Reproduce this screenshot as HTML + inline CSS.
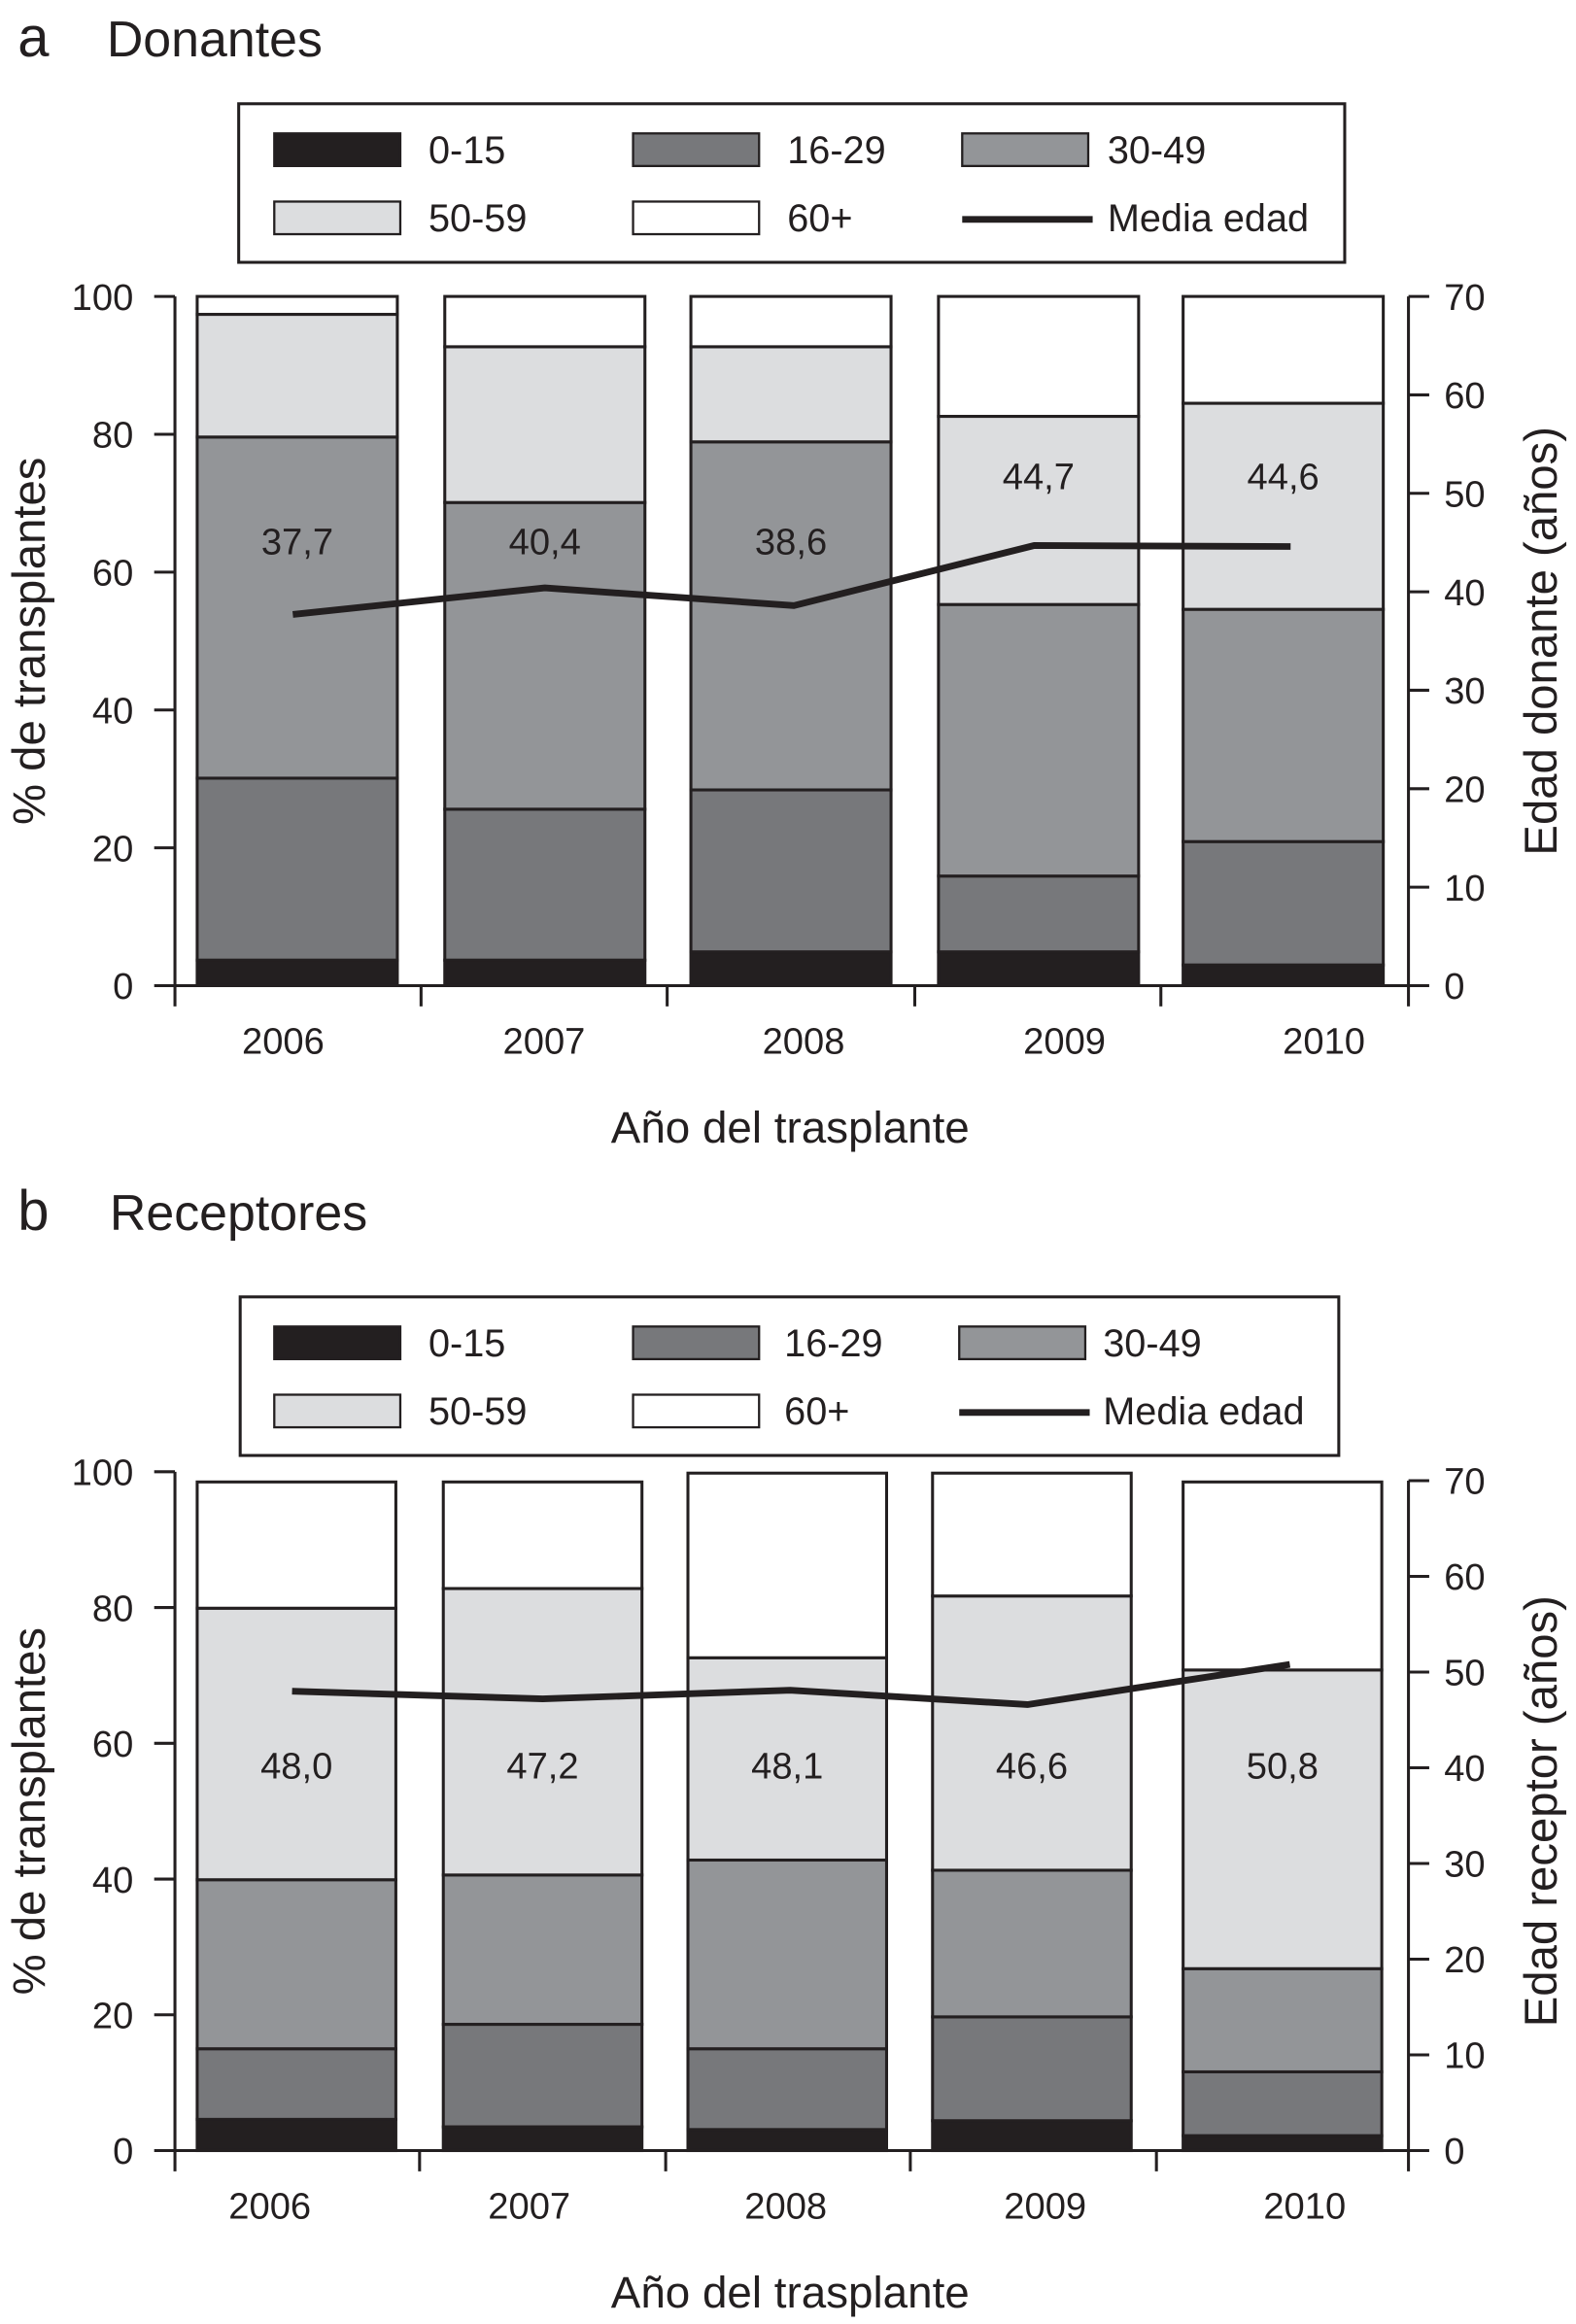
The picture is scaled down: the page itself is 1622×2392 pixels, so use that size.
<!DOCTYPE html>
<html><head><meta charset="utf-8"><style>
html,body{margin:0;padding:0;background:#fff;}
svg{display:block;}
text{font-family:"Liberation Sans",sans-serif;fill:#231f20;}
</style></head><body>
<svg id="fig" width="1622" height="2392" viewBox="0 0 1063 1568" preserveAspectRatio="none" xmlns="http://www.w3.org/2000/svg"></svg>
<script>
const years = ["2006","2007","2008","2009","2010"];
const seriesNames = ["0-15","16-29","30-49","50-59","60+"];
// cumulative top of each segment (%) - donors
const donCum015 = [3.7,3.7,4.9,4.9,3.0];
const donCum1629 = [30.1,25.6,28.4,15.9,20.9];
const donCum3049 = [79.6,70.1,78.9,55.3,54.6];
const donCum5059 = [97.4,92.7,92.7,82.6,84.5];
const donCum60 = [100,100,100,100,100];
const donMean = [37.7,40.4,38.6,44.7,44.6];
const donMeanLabels = ["37,7","40,4","38,6","44,7","44,6"];
const donLabelPct = [64.5,64.5,64.5,74,74];
// recipients
const recCum015 = [4.6,3.5,3.1,4.4,2.2];
const recCum1629 = [15,18.6,15,19.7,11.6];
const recCum3049 = [39.9,40.6,42.8,41.3,26.8];
const recCum5059 = [79.9,82.8,72.6,81.7,70.8];
const recCum60 = [98.5,98.5,99.8,99.8,98.5];
const recMean = [48.0,47.2,48.1,46.6,50.8];
const recMeanLabels = ["48,0","47,2","48,1","46,6","50,8"];
const recLabelPct = [56.8,56.8,56.8,56.8,56.8];
const leftTicks = [0,20,40,60,80,100];
const rightTicks = [0,10,20,30,40,50,60,70];

const NS="http://www.w3.org/2000/svg";
const svg=document.getElementById('fig');
const colors=["#231f20","#77787b","#939598","#dcdddf","#ffffff"];
function mk(tag,attrs,parent){const e=document.createElementNS(NS,tag);for(const k in attrs)e.setAttribute(k,attrs[k]);(parent||svg).appendChild(e);return e;}
function txt(s,attrs,parent){const e=mk('text',attrs,parent);e.textContent=s;return e;}

function panel(P){
  const g=mk('g',{});
  
  
  const yL=v=>P.y0-(v/100)*(P.y0-P.y100);
  const yR=v=>P.y0-(v/70)*(P.y0-P.y100r);
  let t=txt(P.letter,{x:12,y:P.titleY,'font-size':38},g);
  
  t=txt(P.title,{x:P.titleX,y:P.titleY,'font-size':34},g);
  
  const lg=mk('g',{},g);
  
  mk('rect',{x:P.lx,y:P.ly,width:P.lw,height:107,fill:'#fff',stroke:'#231f20','stroke-width':2},lg);
  const sx=[185,427,P.sx3];const tx=[289,P.tx2,P.tx3];
  for(let i=0;i<6;i++){
    const r=Math.floor(i/3),c=i%3;const ry=P.ly+20+r*46;
    const eg=mk('g',{},lg);
    
    if(i<5){mk('rect',{x:sx[c],y:ry,width:85,height:22,fill:colors[i],stroke:'#231f20','stroke-width':1.5},eg);}
    else{mk('line',{x1:sx[c],x2:sx[c]+88,y1:ry+12,y2:ry+12,stroke:'#231f20','stroke-width':4.5},eg);}
    txt(i<5?seriesNames[i]:'Media edad',{x:tx[c],y:ry+20,'font-size':26},eg);
  }
  const cums=P.cums;
  years.forEach((yr,j)=>{
    const bg=mk('g',{},g);
    
    let prev=0;
    for(let s=0;s<5;s++){
      const top=cums[s][j];
      const r=mk('rect',{x:P.bx[j],y:yL(top),width:P.bw,height:yL(prev)-yL(top),fill:colors[s],stroke:'#231f20','stroke-width':2},bg);
      
      
      prev=top;
    }
  });
  const ax=mk('g',{},g);
  
  mk('line',{x1:118,x2:118,y1:P.y100,y2:P.y0,stroke:'#231f20','stroke-width':2},ax);
  mk('line',{x1:950,x2:950,y1:P.y100r,y2:P.y0,stroke:'#231f20','stroke-width':2},ax);
  mk('line',{x1:118,x2:950,y1:P.y0,y2:P.y0,stroke:'#231f20','stroke-width':2},ax);
  leftTicks.forEach(v=>{const y=yL(v);mk('line',{x1:104,x2:118,y1:y,y2:y,stroke:'#231f20','stroke-width':2},ax);
    txt(String(v),{x:90,y:y+9,'font-size':25,'text-anchor':'end'},ax);});
  rightTicks.forEach(v=>{const y=yR(v);mk('line',{x1:950,x2:964,y1:y,y2:y,stroke:'#231f20','stroke-width':2},ax);
    txt(String(v),{x:974,y:y+9,'font-size':25},ax);});
  P.ticks.forEach(x=>mk('line',{x1:x,x2:x,y1:P.y0,y2:P.y0+14,stroke:'#231f20','stroke-width':2},ax));
  years.forEach((yr,j)=>{const e=txt(yr,{x:P.labx[j],y:P.y0+46,'font-size':25,'text-anchor':'middle'},ax);
    });
  t=txt('Año del trasplante',{x:533,y:P.y0+106,'font-size':30,'text-anchor':'middle'},g);
  
  const mid=(P.y0+P.y100)/2;
  t=txt('% de transplantes',{x:0,y:0,'font-size':31,'text-anchor':'middle',transform:`translate(30,${mid}) rotate(-90)`},g);
  
  t=txt(P.rtitle,{x:0,y:0,'font-size':31,'text-anchor':'middle',transform:`translate(1050,${mid}) rotate(-90)`},g);
  
  const pts=P.mean.map((v,j)=>`${P.bx[j]+P.bw/2+P.lineOff[j]},${yR(v)}`).join(' ');
  const pl=mk('polyline',{points:pts,fill:'none',stroke:'#231f20','stroke-width':4.5,'stroke-linejoin':'round'},g);
  
  P.labels.forEach((s,j)=>{const e=txt(s,{x:P.bx[j]+P.bw/2,y:yL(P.labelPct[j])+9,'font-size':25,'text-anchor':'middle'},g);
    });
}
panel({name:'panel-a-donantes',letter:'a',title:'Donantes',titleX:72,titleY:38,lx:161,ly:70,lw:746,sx3:649,tx2:531,tx3:747,
  y0:665,y100:200,y100r:200,bx:[133,300,466,633,798],bw:135,ticks:[118,284,450,617,783,950],labx:[191,367,542,718,893],
  cums:[donCum015,donCum1629,donCum3049,donCum5059,donCum60],mean:donMean,labels:donMeanLabels,labelPct:donLabelPct,
  lineOff:[-3,0,2,-3,5],rtitle:'Edad donante (años)'});
panel({name:'panel-b-receptores',letter:'b',title:'Receptores',titleX:74,titleY:830,lx:162,ly:875,lw:741,sx3:647,tx2:529,tx3:744,
  y0:1451,y100:993,y100r:999,bx:[133,299,464,629,798],bw:134,ticks:[118,283,449,614,780,950],labx:[182,357,530,705,880],
  cums:[recCum015,recCum1629,recCum3049,recCum5059,recCum60],mean:recMean,labels:recMeanLabels,labelPct:recLabelPct,
  lineOff:[-3,0,2,-3,5],rtitle:'Edad receptor (años)'});
</script>
</body></html>
